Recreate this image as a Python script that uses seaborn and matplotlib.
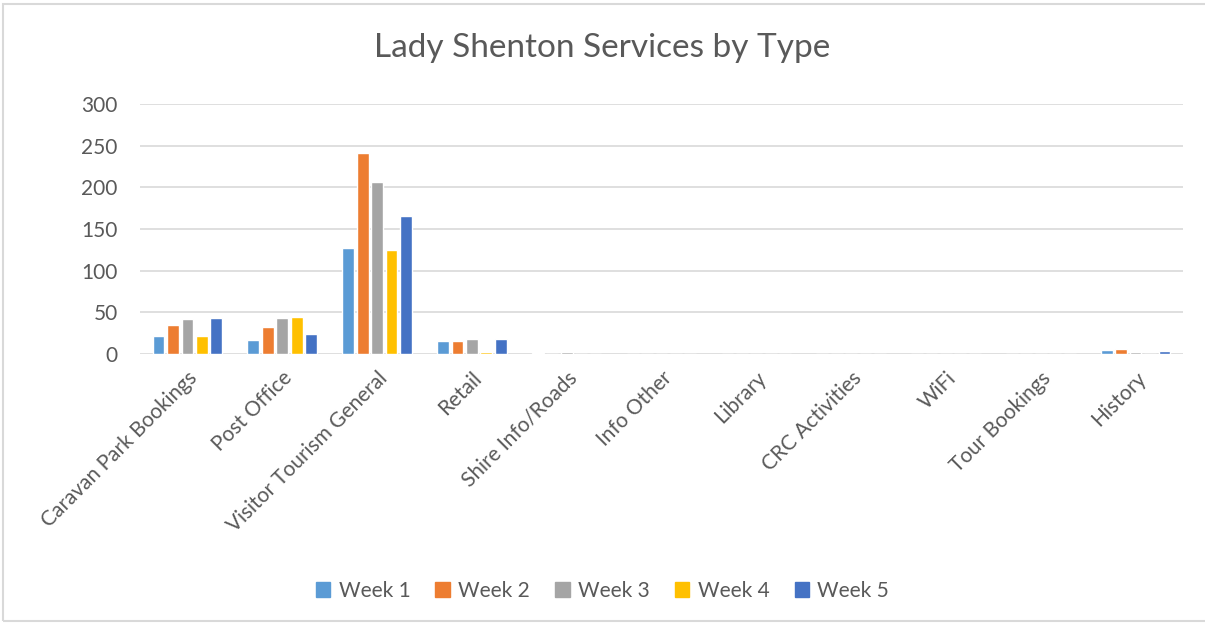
import seaborn as sns
import matplotlib.pyplot as plt
import pandas as pd

# data
categories = ['Caravan Park Bookings', 'Post Office', 'Visitor Tourism General', 'Retail',
              'Shire Info/Roads', 'Info Other', 'Library', 'CRC Activities', 'WiFi',
              'Tour Bookings', 'History']
week1 = [22, 17, 127, 16, 1, 0, 0, 0, 0, 0, 5]
week2 = [35, 32, 241, 15, 0, 0, 0, 0, 0, 0, 6]
week3 = [42, 43, 206, 18, 2, 0, 0, 0, 0, 0, 2]
week4 = [22, 44, 125, 2, 0, 0, 0, 0, 0, 0, 0]
week5 = [43, 24, 165, 18, 0, 0, 0, 0, 0, 0, 3]
weeks = ['Week 1', 'Week 2', 'Week 3', 'Week 4', 'Week 5']
colors = ['#5B9BD5', '#ED7D31', '#A5A5A5', '#FFC000', '#4472C4']

rows = []
for w, vals in zip(weeks, [week1, week2, week3, week4, week5]):
    for c, v in zip(categories, vals):
        rows.append({'cat': c, 'week': w, 'value': v})
df = pd.DataFrame(rows)

sns.set_style('white')
plt.rcParams['font.family'] = ['Lato', 'DejaVu Sans']
text_col = '#595959'

fig = plt.figure(figsize=(12.05, 6.27), dpi=100)
ax = fig.add_axes([140 / 1205, 1 - 354 / 627, (1183 - 140) / 1205, 250 / 627])

sns.barplot(data=df, x='cat', y='value', hue='week', palette=colors,
            width=0.76, gap=0.18, ax=ax, legend=False, saturation=1)

ax.set_ylim(0, 300)
ax.set_yticks(range(0, 301, 50))
ax.set_xlim(-0.5, len(categories) - 0.5)
ax.grid(axis='y', color='#d9d9d9', linewidth=1.2)
ax.set_axisbelow(True)
for s in ax.spines.values():
    s.set_visible(False)
ax.set_xlabel('')
ax.set_ylabel('')
ax.tick_params(axis='both', length=0, labelsize=15, colors=text_col)
ax.tick_params(axis='y', pad=16)
ax.tick_params(axis='x', pad=10)
plt.setp(ax.get_xticklabels(), rotation=45, ha='right', rotation_mode='anchor')

fig.suptitle('Lady Shenton Services by Type', y=1 - 48 / 627, va='center',
             fontsize=24, color=text_col)

handles = [plt.Rectangle((0, 0), 1, 1, color=c) for c in colors]
leg = fig.legend(handles, weeks, loc='center', bbox_to_anchor=(0.5, 1 - 591 / 627),
                 ncol=5, frameon=False, fontsize=15, handlelength=0.7,
                 handleheight=0.7, handletextpad=0.4, columnspacing=1.2)
for t in leg.get_texts():
    t.set_color(text_col)

fig.patches.append(plt.Rectangle((3 / 1205, 6 / 627), 1, 1 - 10 / 627, transform=fig.transFigure,
                                 fill=False, edgecolor='#d9d9d9', linewidth=1.5))

fig.savefig('out.png', dpi=100)
